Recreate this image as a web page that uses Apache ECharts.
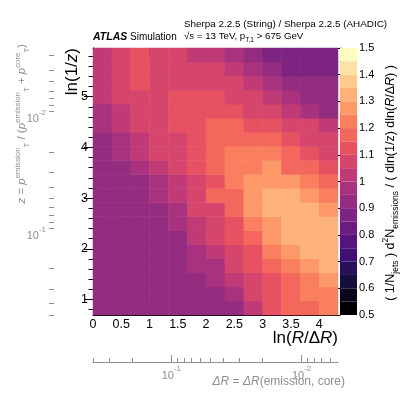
<!DOCTYPE html>
<html><head><meta charset="utf-8">
<script src="https://cdn.jsdelivr.net/npm/echarts@6/dist/echarts.min.js"></script>
<style>html,body{margin:0;padding:0;background:#fff}#c{width:407px;height:395px}</style>
</head><body><div id="c"></div>
<script>
// ---------------- data ----------------
// bin centres of ln(R/ΔR) (13 bins, 0 .. 4.333)
const xBinCentres = [0.167,0.5,0.833,1.167,1.5,1.833,2.167,2.5,2.833,3.167,3.5,3.833,4.167];
// bin centres of ln(1/z) (19 bins, 0.693 .. 5.962)
const yBinCentres = [0.832,1.109,1.386,1.664,1.941,2.218,2.496,2.773,3.050,3.327,3.605,3.882,4.159,4.436,4.714,4.991,5.268,5.546,5.823];
// ratio String / AHADIC, one row per ln(1/z) bin (bottom -> top), columns along ln(R/ΔR)
const ratioRows = [
  [0.92,0.92,0.92,0.92,0.92,0.92,0.92,0.94,1.03,1.11,1.16,1.18,1.23],
  [0.92,0.92,0.92,0.92,0.92,0.92,0.92,0.97,1.07,1.11,1.18,1.23,1.23],
  [0.92,0.92,0.92,0.92,0.92,0.93,0.95,1.03,1.08,1.14,1.18,1.23,1.29],
  [0.92,0.92,0.92,0.92,0.92,0.96,0.97,1.07,1.11,1.18,1.23,1.29,1.32],
  [0.92,0.92,0.92,0.92,0.92,0.97,1.02,1.08,1.14,1.23,1.29,1.32,1.32],
  [0.92,0.92,0.92,0.92,0.92,1.02,1.08,1.11,1.18,1.29,1.32,1.32,1.32],
  [0.92,0.92,0.92,0.92,0.97,1.03,1.07,1.14,1.23,1.29,1.32,1.32,1.32],
  [0.92,0.92,0.92,0.92,0.99,1.07,1.09,1.18,1.27,1.32,1.32,1.32,1.29],
  [0.92,0.92,0.92,0.97,1.02,1.07,1.15,1.18,1.27,1.32,1.32,1.27,1.23],
  [0.92,0.92,0.94,0.99,1.03,1.08,1.12,1.21,1.27,1.27,1.25,1.21,1.15],
  [0.92,0.92,0.97,1.03,1.07,1.11,1.18,1.23,1.23,1.27,1.18,1.18,1.12],
  [0.92,0.97,1.02,1.07,1.09,1.12,1.18,1.23,1.23,1.21,1.18,1.12,1.09],
  [0.92,0.97,1.03,1.07,1.09,1.14,1.18,1.18,1.18,1.18,1.14,1.09,1.07],
  [0.97,1.02,1.07,1.09,1.14,1.14,1.18,1.18,1.14,1.14,1.09,1.06,1.02],
  [0.97,1.03,1.07,1.09,1.14,1.14,1.14,1.14,1.09,1.06,1.02,0.99,0.94],
  [1.01,1.07,1.07,1.09,1.14,1.14,1.14,1.09,1.07,1.02,0.97,0.94,0.92],
  [1.01,1.07,1.12,1.09,1.09,1.09,1.09,1.07,1.02,0.97,0.92,0.92,0.92],
  [1.01,1.07,1.11,1.09,1.09,1.09,1.07,1.03,0.97,0.93,0.86,0.86,0.88],
  [1.01,1.07,1.11,1.09,1.09,1.04,1.03,0.97,0.93,0.88,0.86,0.86,0.86]
];
// colour-scale contour levels and colours
const levels = [0.5,0.55,0.6,0.65,0.7,0.75,0.8,0.85,0.9,0.95,1.0,1.05,1.1,1.15,1.2,1.25,1.3,1.35,1.4,1.45,1.5];
const levelColours = ['#000004','#08071e','#160f3b','#29115a','#3f0f72','#56147d','#6a1c81','#7d2482','#942c80','#a8327d','#c03a76','#d6456c','#e75263','#f3675c','#fa7f5e','#fd9869','#feb179','#fec98d','#fde2a5','#fcfdbf'];
// axis ticks
const xRange = [0, 4.333];
const yRange = [0.693, 5.962];
const xMajorTicks = [0,0.5,1,1.5,2,2.5,3,3.5,4];
const xMinorTicks = [0.1,0.2,0.3,0.4,0.6,0.7,0.8,0.9,1.1,1.2,1.3,1.4,1.6,1.7,1.8,1.9,2.1,2.2,2.3,2.4,2.6,2.7,2.8,2.9,3.1,3.2,3.3,3.4,3.6,3.7,3.8,3.9,4.1,4.2,4.3];
const yMajorTicks = [1,2,3,4,5];
const yMinorTicks = [0.8,1.2,1.4,1.6,1.8,2.2,2.4,2.6,2.8,3.2,3.4,3.6,3.8,4.2,4.4,4.6,4.8,5.2,5.4,5.6,5.8];
const zMajorTicks = [0.1,0.01];
const zMinorTicks = [0.5,0.4,0.3,0.2,0.09,0.08,0.07,0.06,0.05,0.04,0.03,0.02,0.009,0.008,0.007,0.006,0.005,0.004,0.003];
const dRMajorTicks = [0.1,0.01];
const dRMinorTicks = [0.4,0.3,0.2,0.09,0.08,0.07,0.06,0.05,0.04,0.03,0.02,0.009,0.008,0.007,0.006];
const jetR = 0.4;

// ---------------- chart ----------------
const FF = 'Liberation Sans, Arial, Helvetica, sans-serif';
const GRAY = '#8f8f8f';
const lnInv = z => Math.log(1 / z);
const lnR = dR => Math.log(jetR / dR);

const heatData = [];
ratioRows.forEach((row, yi) => row.forEach((v, xi) => heatData.push([xi, yi, v])));

const pieces = levelColours.map((c, i) => ({ gte: levels[i], lt: levels[i + 1], color: c }));

const powRich = {
  b: { fontFamily: FF, fontSize: 11, color: GRAY, lineHeight: 16, verticalAlign: 'bottom' },
  s: { fontFamily: FF, fontSize: 8, color: GRAY, lineHeight: 9, verticalAlign: 'top' }
};
const powLabel = e => '{b|10}{s|' + e + '}';

function valAxis(base, extra) { return Object.assign({
  type: 'value', gridIndex: 0, splitLine: { show: false }, axisLabel: { show: false }
}, base, extra); }

const blackLine = { show: true, lineStyle: { color: '#000', width: 1 } };
const noLine = { show: false };
const tick = (vals, len, color) => ({ show: true, inside: true, length: len, customValues: vals, lineStyle: { color: color || '#000', width: 1 } });

const xAxes = [
  { type: 'category', gridIndex: 0, data: xBinCentres, show: false, boundaryGap: true },
  valAxis({ position: 'bottom', min: xRange[0], max: xRange[1] }, {
    axisLine: blackLine, axisTick: tick(xMajorTicks, 9),
    axisLabel: { show: true, customValues: xMajorTicks, margin: 3, fontSize: 12.5, fontFamily: FF, color: '#000' } }),
  valAxis({ position: 'bottom', min: xRange[0], max: xRange[1] }, { axisLine: noLine, axisTick: tick(xMinorTicks, 4.5) }),
  valAxis({ position: 'top', min: xRange[0], max: xRange[1] }, { axisLine: blackLine, axisTick: tick(xMajorTicks, 9) }),
  valAxis({ position: 'top', min: xRange[0], max: xRange[1] }, { axisLine: noLine, axisTick: tick(xMinorTicks, 4.5) }),
  valAxis({ position: 'bottom', offset: 47, min: xRange[0], max: xRange[1] }, {
    axisLine: { show: true, lineStyle: { color: GRAY, width: 1 } },
    axisTick: tick(dRMajorTicks.map(lnR), 7, GRAY),
    axisLabel: { show: true, customValues: dRMajorTicks.map(lnR), margin: 3, rich: powRich,
      formatter: v => powLabel(Math.round(Math.log10(jetR * Math.exp(-v)))) } }),
  valAxis({ position: 'bottom', offset: 47, min: xRange[0], max: xRange[1] }, { axisLine: noLine, axisTick: tick(dRMinorTicks.map(lnR), 4, GRAY) }),
  { type: 'value', gridIndex: 1, show: false, min: 0, max: 1 }
];

const yAxes = [
  { type: 'category', gridIndex: 0, data: yBinCentres, show: false, boundaryGap: true },
  valAxis({ position: 'left', min: yRange[0], max: yRange[1] }, {
    axisLine: blackLine, axisTick: tick(yMajorTicks, 9),
    axisLabel: { show: true, customValues: yMajorTicks, margin: 5, fontSize: 12.5, fontFamily: FF, color: '#000' } }),
  valAxis({ position: 'left', min: yRange[0], max: yRange[1] }, { axisLine: noLine, axisTick: tick(yMinorTicks, 4.5) }),
  valAxis({ position: 'right', min: yRange[0], max: yRange[1] }, { axisLine: blackLine, axisTick: tick(yMajorTicks, 9) }),
  valAxis({ position: 'right', min: yRange[0], max: yRange[1] }, { axisLine: noLine, axisTick: tick(yMinorTicks, 4.5) }),
  valAxis({ position: 'left', offset: 44, min: yRange[0], max: yRange[1] }, {
    axisLine: { show: true, lineStyle: { color: GRAY, width: 1 } },
    axisTick: tick(zMajorTicks.map(lnInv), 8, GRAY),
    axisLabel: { show: true, customValues: zMajorTicks.map(lnInv), margin: 3, rich: powRich,
      formatter: v => powLabel(Math.round(Math.log10(Math.exp(-v)))) } }),
  valAxis({ position: 'left', offset: 44, min: yRange[0], max: yRange[1] }, { axisLine: noLine, axisTick: tick(zMinorTicks.map(lnInv), 5, GRAY) }),
  { type: 'value', gridIndex: 1, position: 'right', min: levels[0], max: levels[levels.length - 1], interval: 0.1,
    splitLine: { show: false },
    axisLine: { show: true, lineStyle: { color: '#000', width: 1 } },
    axisTick: { show: true, inside: true, length: 5, lineStyle: { color: '#000' } },
    axisLabel: { show: true, margin: 2, fontSize: 11, fontFamily: FF, color: '#000' } }
];

function rt(F, color) {
  return {
    n: { fontFamily: FF, fontSize: F, lineHeight: F * 1.5, verticalAlign: 'middle', fill: color, color: color },
    i: { fontFamily: FF, fontSize: F, fontStyle: 'italic', lineHeight: F * 1.5, verticalAlign: 'middle', fill: color, color: color },
    sup: { fontFamily: FF, fontSize: F * 0.68, lineHeight: F * 0.68, verticalAlign: 'top', fill: color, color: color },
    sub: { fontFamily: FF, fontSize: F * 0.68, lineHeight: F * 0.68, verticalAlign: 'bottom', fill: color, color: color }
  };
}
function txt(x, y, text, F, opts) {
  opts = opts || {};
  const color = opts.color || '#000';
  return { type: 'text', x: x, y: y, rotation: opts.rot || 0, silent: true,
    style: { text: text, rich: rt(F, color), fontFamily: FF, fontSize: F, fill: color,
      align: opts.align || 'left', textAlign: opts.align || 'left', verticalAlign: 'middle', textVerticalAlign: 'middle' } };
}

const option = {
  animation: false,
  textStyle: { fontFamily: FF },
  grid: [
    { left: 93, top: 48, width: 245, height: 267, outerBoundsMode: 'none', containLabel: false },
    { left: 340, top: 48, width: 17, height: 267, outerBoundsMode: 'none', containLabel: false }
  ],
  xAxis: xAxes,
  yAxis: yAxes,
  visualMap: {
    type: 'piecewise', seriesIndex: 0, orient: 'vertical', left: 340, top: 48,
    pieces: pieces, itemWidth: 17, itemHeight: 267 / 20, itemGap: 0, itemSymbol: 'rect',
    showLabel: false, padding: 0, hoverLink: false, selectedMode: false, textGap: 0
  },
  series: [{
    type: 'heatmap', xAxisIndex: 0, yAxisIndex: 0, data: heatData,
    emphasis: { disabled: true }, progressive: 0
  }],
  graphic: [
    { type: 'text', x: 93, y: 37, silent: true, style: { text: 'ATLAS', fontFamily: FF, fontSize: 10.5, fontWeight: 'bold', fontStyle: 'italic', fill: '#000', align: 'left', verticalAlign: 'middle' } },
    { type: 'text', x: 130, y: 37, silent: true, style: { text: 'Simulation', fontFamily: FF, fontSize: 10, fill: '#000', align: 'left', verticalAlign: 'middle' } },
    txt(184, 24, '{n|Sherpa 2.2.5 (String) / Sherpa 2.2.5 (AHADIC)}', 9.9),
    txt(184, 36, '{n|√}{i|s}{n| = 13 TeV, p}{sub|T,1}{n| > 675 GeV}', 9.7),
    txt(72, 48, '{n|ln(1/}{i|z}{n|)}', 17, { rot: Math.PI / 2, align: 'right' }),
    txt(338, 338, '{n|ln(}{i|R}{n|/Δ}{i|R}{n|)}', 17, { align: 'right' }),
    txt(391, 183, '{n|( 1/N}{sub|jets}{n| ) d}{sup|2}{n|N}{sub|emissions}{n| / ( dln(1/z) dln(}{i|R}{n|/Δ}{i|R}{n|) )}', 12.5, { rot: Math.PI / 2, align: 'center' }),
    txt(345, 382, '{i|ΔR}{n| = }{i|ΔR}{n|(emission, core)}', 12, { align: 'right', color: GRAY }),
    txt(22, 44, '{i|z}{n| = }{i|p}{sup|emission}{sub|T}{n| / (}{i|p}{sup|emission}{sub|T}{n| + }{i|p}{sup|core}{sub|T}{n|)}', 11.5, { rot: Math.PI / 2, align: 'right', color: GRAY })
  ]
};

const chart = echarts.init(document.getElementById('c'), null, { renderer: 'canvas' });
chart.setOption(option);
</script>
</body></html>
